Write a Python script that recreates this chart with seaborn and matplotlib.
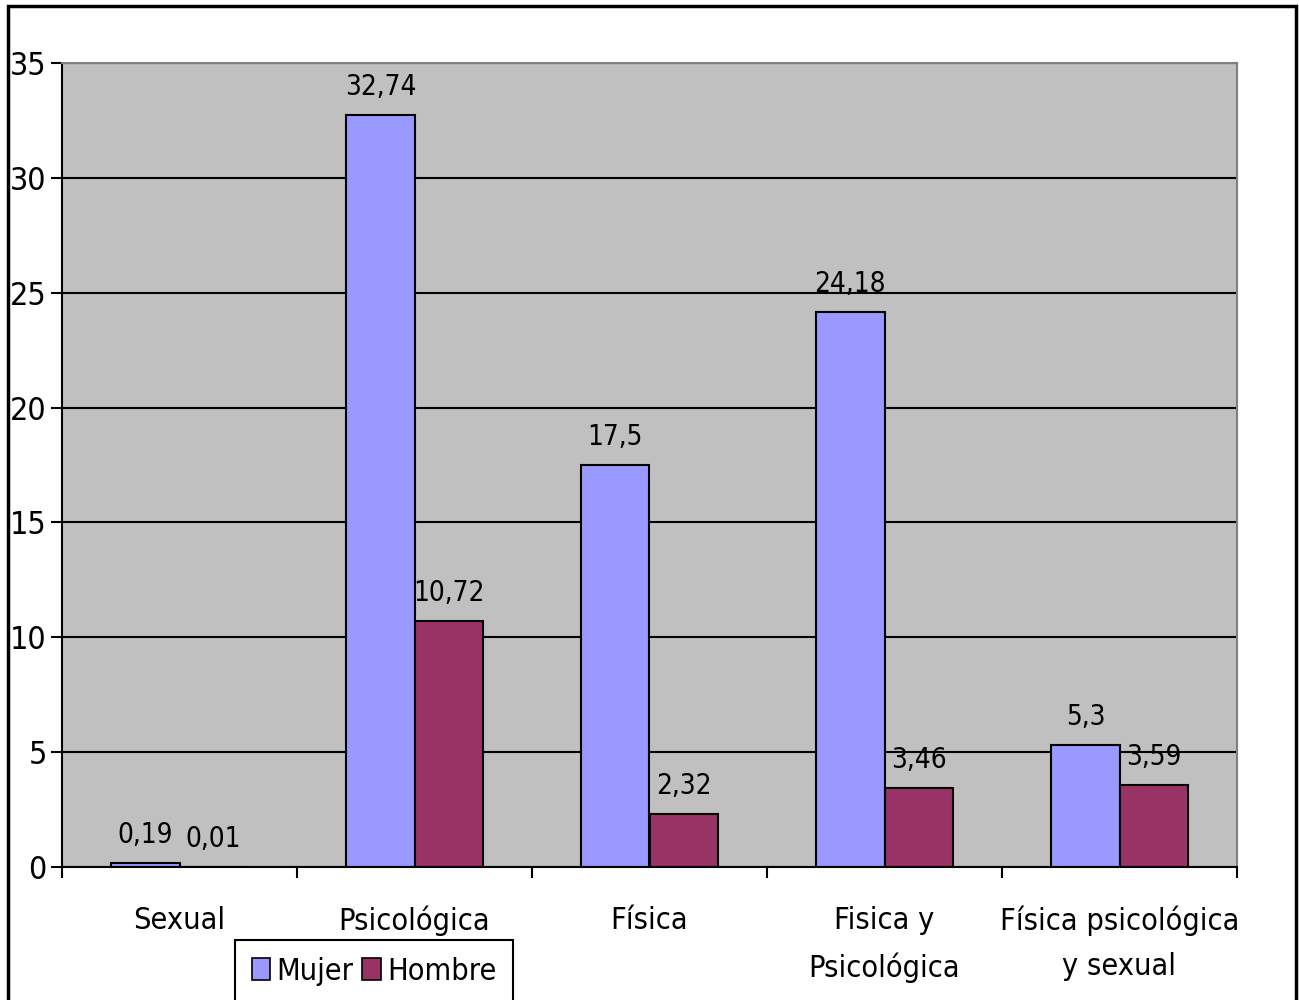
import matplotlib
matplotlib.use("Agg")
import matplotlib.pyplot as plt
import matplotlib.patches as mpatches
from matplotlib.ticker import MultipleLocator, FixedLocator
import seaborn as sns
import pandas as pd

categorias = ["Sexual", "Psicológica", "Física", "Fisica y\nPsicológica", "Física psicológica\ny sexual"]
mujer = [0.19, 32.74, 17.5, 24.18, 5.3]
hombre = [0.01, 10.72, 2.32, 3.46, 3.59]
series = ["Mujer", "Hombre"]
colores = ["#9999FF", "#993366"]

df = pd.DataFrame({
    "categoria": categorias * 2,
    "valor": mujer + hombre,
    "sexo": [series[0]] * len(categorias) + [series[1]] * len(categorias),
})

sns.set_style("white")
plt.rcParams["font.family"] = ["DejaVu Sans"]
plt.rcParams["font.stretch"] = "condensed"
plt.rcParams["text.color"] = "black"
plt.rcParams["xtick.color"] = "black"
plt.rcParams["ytick.color"] = "black"
plt.rcParams["xtick.labelcolor"] = "black"
plt.rcParams["ytick.labelcolor"] = "black"

fig = plt.figure(figsize=(12.99, 10), dpi=100)
ax = fig.add_axes([62 / 1299, 1 - 867 / 1000, (1237 - 62) / 1299, (867 - 63) / 1000])
ax.set_facecolor("#C0C0C0")

sns.barplot(data=df, x="categoria", y="valor", hue="sexo", palette=colores,
            width=0.58, edgecolor="black", linewidth=1.5, ax=ax, legend=False,
            saturation=1)

for cont in ax.containers:
    ax.bar_label(cont, labels=[f"{v:g}".replace(".", ",") for v in cont.datavalues],
                 padding=10, fontsize=20, color="black")

ax.set_ylim(0, 35)
ax.set_xlim(-0.5, len(categorias) - 0.5)
ax.yaxis.set_major_locator(MultipleLocator(5))
ax.grid(axis="y", color="black", linewidth=1.5)
ax.set_axisbelow(True)
ax.tick_params(axis="y", labelsize=23, length=8, width=1.5, direction="out", left=True, pad=3)

ax.xaxis.set_minor_locator(FixedLocator([i - 0.5 for i in range(len(categorias) + 1)]))
ax.tick_params(axis="x", which="major", length=0, labelsize=22, pad=28)
ax.tick_params(axis="x", which="minor", length=8, width=1.5, direction="out", bottom=True)
for t in ax.get_xticklabels():
    t.set_linespacing(1.7)
ax.set_xlabel("")
ax.set_ylabel("")

for s in ["left", "bottom"]:
    ax.spines[s].set_color("black")
    ax.spines[s].set_linewidth(1.5)
for s in ["top", "right"]:
    ax.spines[s].set_color("#808080")
    ax.spines[s].set_linewidth(1.5)

handles = [mpatches.Patch(facecolor=c, edgecolor="black", linewidth=1.2, label=l)
           for c, l in zip(colores, series)]
leg = fig.legend(handles=handles, loc="upper left", bbox_to_anchor=(235 / 1299, 1 - 940 / 1000),
                 ncol=2, fontsize=22, frameon=True, fancybox=False, framealpha=1,
                 handlelength=0.6, handleheight=0.7, handletextpad=0.2, columnspacing=0.3,
                 borderpad=0.55, borderaxespad=0)
leg.get_frame().set_edgecolor("black")
leg.get_frame().set_linewidth(1.5)

fig.patches.append(mpatches.Rectangle((8 / 1299, -0.05), (1296 - 8) / 1299, 1 - 6 / 1000 + 0.05,
                                      transform=fig.transFigure, fill=False,
                                      edgecolor="black", linewidth=2.5))

fig.savefig("out.png", dpi=100)
